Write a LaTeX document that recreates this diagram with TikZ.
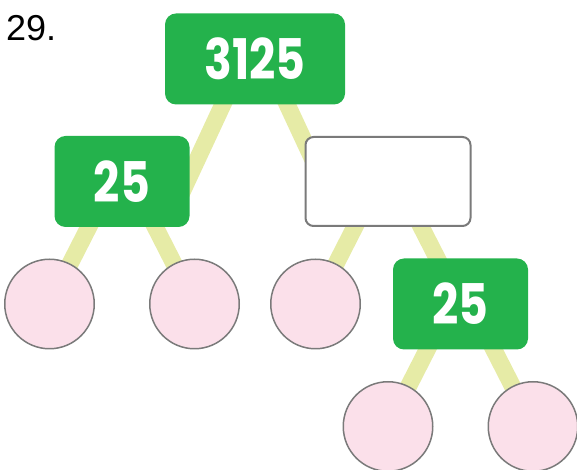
\documentclass[tikz,border=0pt]{standalone}
\usepackage{fontspec}
\setmainfont{Liberation Sans}
\newfontfamily\numfont[FakeStretch=0.82]{Poppins}
\usetikzlibrary{positioning,backgrounds}
\definecolor{factorgreen}{HTML}{24B24C}
\definecolor{branchgreen}{HTML}{E6EBA6}
\definecolor{leafpink}{HTML}{FBE0EA}
\definecolor{rimgray}{HTML}{7A7A7A}

\begin{document}
\begin{tikzpicture}[node distance=122.5pt and 72.5pt, on grid,
  factor/.style={rectangle, rounded corners=11pt, fill=factorgreen, text=white, minimum width=135pt, minimum height=91pt, font=\numfont\bfseries\fontsize{56}{60}\selectfont},
  empty_box/.style={rectangle, rounded corners=8pt, draw=rimgray, line width=2pt, fill=white, minimum width=165pt, minimum height=89pt},
  leaf/.style={circle, draw=rimgray, line width=1.5pt, fill=leafpink, minimum size=89.5pt},
  branch/.style={draw=branchgreen, line width=17pt}]
\useasboundingbox (0,0) rectangle (577pt,470pt);

\node[anchor=base west, inner sep=0pt, font=\fontsize{36}{40}\selectfont] (number) at (6pt,429.3pt) {29.};
\node[factor, minimum width=180pt] (root) at (255pt,411pt) {3125};
\node[factor, below left=122.5pt and 133pt of root] (left_factor) {25};
\node[empty_box, below right=122.5pt and 133pt of root] (blank_factor) {};
\node[factor, below right=of blank_factor] (right_factor) {25};
\node[leaf, below left=of left_factor] (leaf_a) {};
\node[leaf, below right=of left_factor] (leaf_b) {};
\node[leaf, below left=of blank_factor] (leaf_c) {};
\node[leaf, below left=of right_factor] (leaf_d) {};
\node[leaf, below right=of right_factor] (leaf_e) {};

\begin{scope}[on background layer]
\draw[branch, shorten >=-25pt] ([xshift=-11pt]root.center) -- ([xshift=65pt]left_factor.center);
\draw[branch, shorten >=-25pt] ([xshift=11pt]root.center) -- ([xshift=-65pt]blank_factor.center);
\draw[branch] ([xshift=-10pt]left_factor.center) -- (leaf_a.center);
\draw[branch] ([xshift=10pt]left_factor.center) -- (leaf_b.center);
\draw[branch] ([xshift=-10pt]blank_factor.center) -- (leaf_c.center);
\draw[branch] ([xshift=10pt]blank_factor.center) -- (right_factor.center);
\draw[branch] ([xshift=-10pt]right_factor.center) -- (leaf_d.center);
\draw[branch] ([xshift=10pt]right_factor.center) -- (leaf_e.center);
\end{scope}
\end{tikzpicture}
\end{document}
